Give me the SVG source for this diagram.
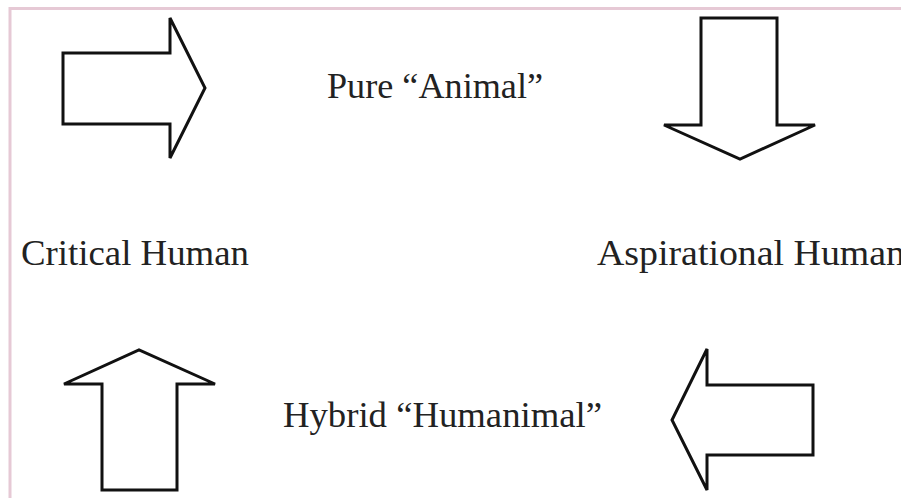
<svg xmlns="http://www.w3.org/2000/svg" width="901" height="498" viewBox="0 0 901 498">
<style>
.arrow{fill:#fff;stroke:#111;stroke-width:3;stroke-linejoin:miter}
.lbl{font-family:"Liberation Serif","Times New Roman",serif;font-size:35px;fill:#222}
.frame{fill:none;stroke:#e6c9d5;stroke-width:3}
</style>
<rect width="901" height="498" fill="#fff"/>
<path class="frame" d="M10,498 V8.5 H901"/>
<g id="connectors">
<g id="arrow-right"><polygon class="arrow" points="63,53 170,53 170,18 205,88 170,158 170,124 63,124"/></g>
<g id="arrow-down"><polygon class="arrow" points="701,18 777,18 777,125 815,125 740,159 664,125 701,125"/></g>
<g id="arrow-left"><polygon class="arrow" points="813,385 707,385 707,349 672,420 707,490 707,455 813,455"/></g>
<g id="arrow-up"><polygon class="arrow" points="102,490 177,490 177,384 215,384 139,350 64,384 102,384"/></g>
</g>
<g id="node-pure"><text class="lbl" x="327" y="98" textLength="216" lengthAdjust="spacingAndGlyphs">Pure “Animal”</text></g>
<g id="node-critical"><text class="lbl" x="21" y="265" textLength="228" lengthAdjust="spacingAndGlyphs">Critical Human</text></g>
<g id="node-aspirational"><text class="lbl" x="597" y="265" textLength="308" lengthAdjust="spacingAndGlyphs">Aspirational Human</text></g>
<g id="node-hybrid"><text class="lbl" x="283" y="427" textLength="319" lengthAdjust="spacingAndGlyphs">Hybrid “Humanimal”</text></g>
</svg>
